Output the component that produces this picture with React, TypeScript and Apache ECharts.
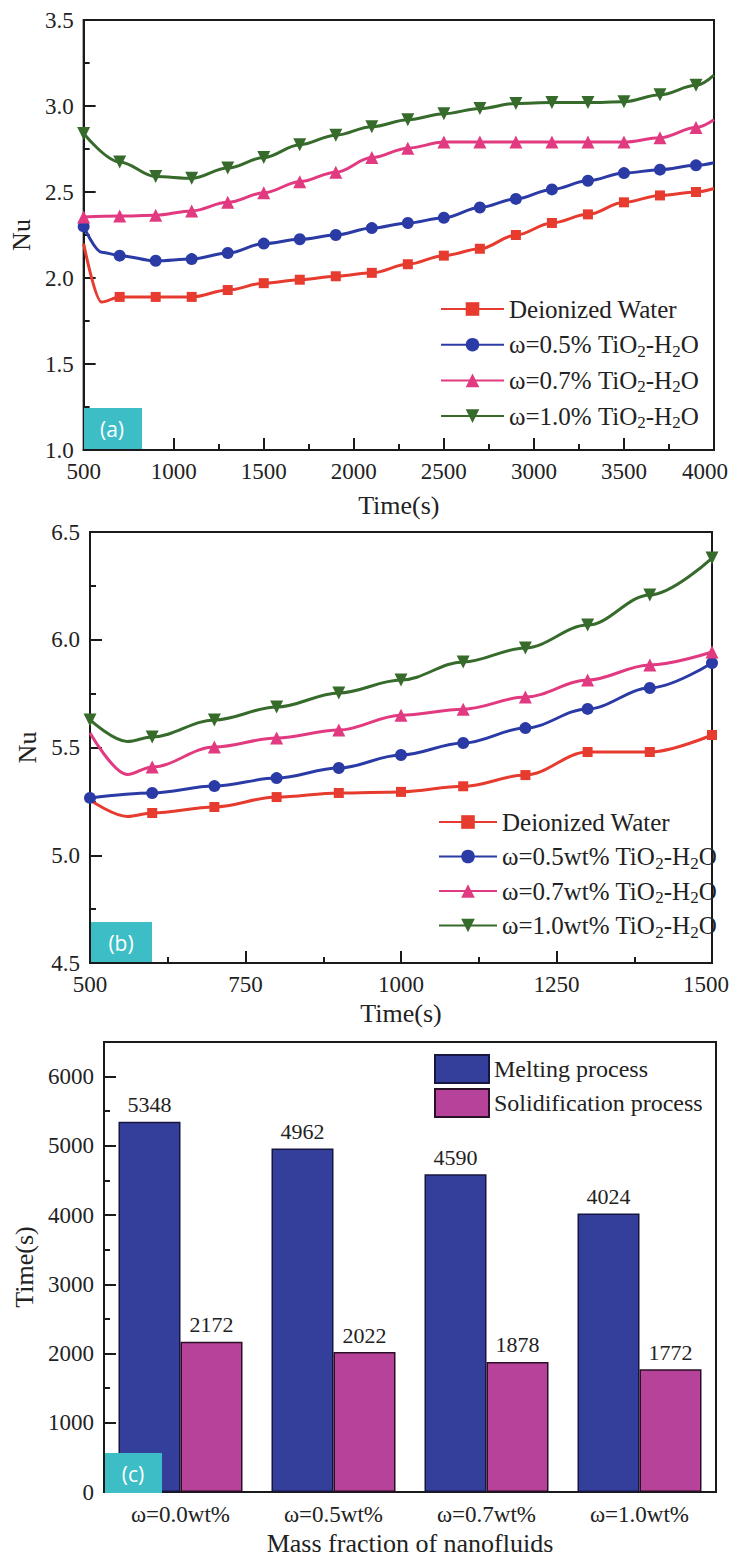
import React, { useEffect, useRef } from 'react';
import * as echarts from 'echarts';

// ---------- Panel (a) data ----------
const timesA = [500, 600, 700, 900, 1100, 1300, 1500, 1700, 1900, 2100, 2300, 2500, 2700, 2900, 3100, 3300, 3500, 3700, 3900, 4000];
const nuA_water = [2.2, 1.86, 1.89, 1.89, 1.89, 1.93, 1.97, 1.99, 2.01, 2.03, 2.08, 2.13, 2.17, 2.25, 2.32, 2.37, 2.44, 2.48, 2.5, 2.52];
const nuA_05 = [2.3, 2.15, 2.13, 2.1, 2.11, 2.145, 2.2, 2.225, 2.25, 2.29, 2.32, 2.35, 2.41, 2.46, 2.515, 2.565, 2.61, 2.63, 2.655, 2.67];
const nuA_07 = [2.355, null, 2.36, 2.365, 2.39, 2.44, 2.495, 2.56, 2.615, 2.7, 2.755, 2.79, 2.79, 2.79, 2.79, 2.79, 2.79, 2.815, 2.875, 2.92];
const nuA_10 = [2.84, null, 2.675, 2.59, 2.58, 2.64, 2.7, 2.775, 2.83, 2.88, 2.92, 2.955, 2.985, 3.015, 3.02, 3.02, 3.025, 3.065, 3.12, 3.18];

// ---------- Panel (b) data ----------
const timesB = [500, 560, 600, 700, 800, 900, 1000, 1100, 1200, 1300, 1400, 1500];
const nuB_water = [5.256, 5.18, 5.196, 5.224, 5.27, 5.289, 5.294, 5.32, 5.372, 5.479, 5.479, 5.558];
const nuB_05 = [5.266, null, 5.289, 5.321, 5.358, 5.405, 5.465, 5.521, 5.59, 5.679, 5.776, 5.892];
const nuB_07 = [5.567, 5.375, 5.41, 5.502, 5.544, 5.581, 5.65, 5.678, 5.734, 5.813, 5.883, 5.943];
const nuB_10 = [5.628, 5.528, 5.549, 5.628, 5.688, 5.753, 5.813, 5.897, 5.962, 6.068, 6.208, 6.379];

// ---------- Panel (c) data ----------
const fractions = ['ω=0.0wt%', 'ω=0.5wt%', 'ω=0.7wt%', 'ω=1.0wt%'];
const meltingTime = [5348, 4962, 4590, 4024];
const solidTime = [2172, 2022, 1878, 1772];

// ---------- Tick settings ----------
const yTicksA = { min: 1.0, max: 3.5, interval: 0.5 };
const xTicksA = { min: 500, max: 4000, interval: 500 };
const yTicksB = { min: 4.5, max: 6.5, interval: 0.5 };
const xTicksB = { min: 500, max: 1500, interval: 250 };
const yTicksC = { min: 0, max: 6500, interval: 1000 };

const FONT = 'Liberation Serif';
const INK = '#1a1a1a';
const TXT = '#222222';
const RED = '#e63b2e';
const BLUE = '#2b3ba6';
const PINK = '#e23a80';
const GREEN = '#366b2b';
const CYAN = '#3dbdc6';

const legendNames: Record<string, string> = {
  a0: 'Deionized Water',
  a1: 'ω=0.5% TiO{s|2}-H{s|2}O',
  a2: 'ω=0.7% TiO{s|2}-H{s|2}O',
  a3: 'ω=1.0% TiO{s|2}-H{s|2}O',
  b0: 'Deionized Water',
  b1: 'ω=0.5wt% TiO{s|2}-H{s|2}O',
  b2: 'ω=0.7wt% TiO{s|2}-H{s|2}O',
  b3: 'ω=1.0wt% TiO{s|2}-H{s|2}O',
};

function makeLine(
  name: string,
  times: number[],
  values: (number | null)[],
  idx: number,
  color: string,
  symbol: string,
  size: number,
  rotate: number,
  marked: (t: number) => boolean
) {
  const data = times
    .map((t, i) => (values[i] == null ? null : { value: [t, values[i]], symbol: marked(t) ? symbol : 'none' }))
    .filter((d) => d !== null);
  return {
    type: 'line',
    name,
    xAxisIndex: idx,
    yAxisIndex: idx,
    data,
    smooth: 0.35,
    smoothMonotone: 'x',
    showAllSymbol: true,
    symbol,
    symbolSize: size,
    symbolRotate: rotate,
    lineStyle: { color, width: 3 },
    itemStyle: { color },
    clip: true,
    z: 3,
  };
}

const labelText = { fontFamily: FONT, fontSize: 23, color: TXT };

function axisBase() {
  return {
    axisLine: { show: true, onZero: false, lineStyle: { color: INK, width: 2 } },
    axisTick: { show: true, inside: true, length: 12, lineStyle: { color: INK, width: 2 } },
    minorTick: { show: true, splitNumber: 2, length: 6, lineStyle: { color: INK, width: 2 } },
    splitLine: { show: false },
    axisLabel: { ...labelText, margin: 10, formatter: (v: any) => String(v) },
    nameTextStyle: { fontFamily: FONT, fontSize: 26, color: TXT },
  };
}

function legendRich() {
  return {
    fontFamily: FONT,
    fontSize: 25,
    color: TXT,
    lineHeight: 30,
    rich: {
      s: { fontFamily: FONT, fontSize: 17, lineHeight: 17, verticalAlign: 'bottom', color: TXT },
    },
  };
}

function buildOption() {
  const aMarked = (first: boolean) => (t: number) => (t >= 700 && t <= 3900) || (first && t === 500);
  const bMarked = (first: boolean) => (t: number) => t >= 600 || (first && t === 500);

  const series: any[] = [
    makeLine('a0', timesA, nuA_water, 0, RED, 'rect', 10, 0, aMarked(false)),
    makeLine('a1', timesA, nuA_05, 0, BLUE, 'circle', 12, 0, aMarked(true)),
    makeLine('a2', timesA, nuA_07, 0, PINK, 'triangle', 13, 0, aMarked(true)),
    makeLine('a3', timesA, nuA_10, 0, GREEN, 'triangle', 13, 180, aMarked(true)),
    makeLine('b0', timesB, nuB_water, 1, RED, 'rect', 10, 0, bMarked(false)),
    makeLine('b1', timesB, nuB_05, 1, BLUE, 'circle', 12, 0, bMarked(true)),
    makeLine('b2', timesB, nuB_07, 1, PINK, 'triangle', 13, 0, bMarked(false)),
    makeLine('b3', timesB, nuB_10, 1, GREEN, 'triangle', 13, 180, bMarked(true)),
    {
      type: 'bar',
      name: 'Melting process',
      xAxisIndex: 2,
      yAxisIndex: 2,
      data: meltingTime,
      barWidth: 62,
      barGap: '0%',
      itemStyle: { color: '#343f9c', borderColor: '#161640', borderWidth: 1.5 },
      label: { show: true, position: 'top', distance: 6, ...labelText, fontSize: 22, formatter: (p: any) => String(p.value) },
    },
    {
      type: 'bar',
      name: 'Solidification process',
      xAxisIndex: 2,
      yAxisIndex: 2,
      data: solidTime,
      barWidth: 62,
      barGap: '0%',
      itemStyle: { color: '#b64399', borderColor: '#2a1026', borderWidth: 1.5 },
      label: { show: true, position: 'top', distance: 6, ...labelText, fontSize: 22, formatter: (p: any) => String(p.value) },
    },
  ];

  const gridBox = { show: true, borderColor: INK, borderWidth: 2, backgroundColor: 'transparent', containLabel: false };

  const lineLegend = (names: string[], left: number, top: number, itemWidth: number, gap: number) => ({
    data: names,
    orient: 'vertical',
    left,
    top,
    padding: 0,
    itemWidth,
    itemHeight: 17,
    itemGap: gap,
    selectedMode: false,
    formatter: (n: string) => legendNames[n] ?? n,
    textStyle: legendRich(),
  });

  return {
    animation: false,
    backgroundColor: '#ffffff',
    textStyle: { fontFamily: FONT, fontSize: 22, color: TXT },
    grid: [
      { left: 83, top: 20, width: 631, height: 430, ...gridBox },
      { left: 90, top: 532, width: 630, height: 431, ...gridBox },
      { left: 104, top: 1042, width: 612, height: 452, ...gridBox },
    ],
    xAxis: [
      {
        type: 'value',
        gridIndex: 0,
        ...xTicksA,
        ...axisBase(),
        name: 'Time(s)',
        nameLocation: 'middle',
        nameGap: 42,
        axisLabel: {
          ...axisBase().axisLabel,
          formatter: (v: number) => (v === xTicksA.max ? '{m|' + v + '}' : String(v)),
          rich: { m: { ...labelText, padding: [0, 18, 0, 0] } },
        },
      },
      {
        type: 'value',
        gridIndex: 1,
        ...xTicksB,
        ...axisBase(),
        name: 'Time(s)',
        nameLocation: 'middle',
        nameGap: 37,
        axisLabel: {
          ...axisBase().axisLabel,
          formatter: (v: number) => (v === xTicksB.max ? '{m|' + v + '}' : String(v)),
          rich: { m: { ...labelText, padding: [0, 12, 0, 0] } },
        },
      },
      {
        type: 'category',
        gridIndex: 2,
        data: fractions,
        ...axisBase(),
        axisTick: { show: false },
        minorTick: { show: false },
        name: 'Mass fraction of nanofluids',
        nameLocation: 'middle',
        nameGap: 38,
        axisLabel: { ...labelText, fontSize: 23, margin: 11 },
      },
    ],
    yAxis: [
      {
        type: 'value',
        gridIndex: 0,
        ...yTicksA,
        ...axisBase(),
        name: 'Nu',
        nameLocation: 'middle',
        nameRotate: 90,
        nameGap: 44,
        axisLabel: { ...axisBase().axisLabel, formatter: (v: number) => v.toFixed(1) },
      },
      {
        type: 'value',
        gridIndex: 1,
        ...yTicksB,
        ...axisBase(),
        name: 'Nu',
        nameLocation: 'middle',
        nameRotate: 90,
        nameGap: 48,
        axisLabel: { ...axisBase().axisLabel, formatter: (v: number) => v.toFixed(1) },
      },
      {
        type: 'value',
        gridIndex: 2,
        ...yTicksC,
        ...axisBase(),
        name: 'Time(s)',
        nameLocation: 'middle',
        nameRotate: 90,
        nameGap: 64,
        axisLabel: { ...axisBase().axisLabel, showMaxLabel: false },
      },
    ],
    legend: [
      lineLegend(['a0', 'a1', 'a2', 'a3'], 440, 294, 63, 5.7),
      lineLegend(['b0', 'b1', 'b2', 'b3'], 438, 807, 58, 4.5),
      {
        data: ['Melting process', 'Solidification process'],
        orient: 'vertical',
        left: 434,
        top: 1054,
        padding: 0,
        itemWidth: 54,
        itemHeight: 28,
        itemGap: 4,
        icon: 'rect',
        selectedMode: false,
        textStyle: { fontFamily: FONT, fontSize: 24, color: TXT },
      },
    ],
    graphic: [
      { type: 'rect', shape: { x: 84, y: 408, width: 58, height: 41 }, style: { fill: CYAN }, z: 10 },
      { type: 'text', x: 112, y: 429, style: { text: '(a)', fill: '#fff', fontFamily: 'Open Sans', fontSize: 21, align: 'center', verticalAlign: 'middle' }, z: 11 },
      { type: 'rect', shape: { x: 91, y: 922, width: 61, height: 40 }, style: { fill: CYAN }, z: 10 },
      { type: 'text', x: 121, y: 943, style: { text: '(b)', fill: '#fff', fontFamily: 'Open Sans', fontSize: 21, align: 'center', verticalAlign: 'middle' }, z: 11 },
      { type: 'rect', shape: { x: 105, y: 1453, width: 57, height: 40 }, style: { fill: CYAN }, z: 10 },
      { type: 'text', x: 133, y: 1474, style: { text: '(c)', fill: '#fff', fontFamily: 'Open Sans', fontSize: 21, align: 'center', verticalAlign: 'middle' }, z: 11 },
    ],
    series,
  };
}

export default function App() {
  const ref = useRef<HTMLDivElement>(null);
  useEffect(() => {
    if (!ref.current) return;
    const chart = echarts.init(ref.current, null, { renderer: 'svg' });
    chart.setOption(buildOption() as any);
    return () => chart.dispose();
  }, []);
  return (
    <div
      ref={ref}
      style={{ position: 'absolute', left: 0, top: 0, width: 732, height: 1557, background: '#fff' }}
    />
  );
}
